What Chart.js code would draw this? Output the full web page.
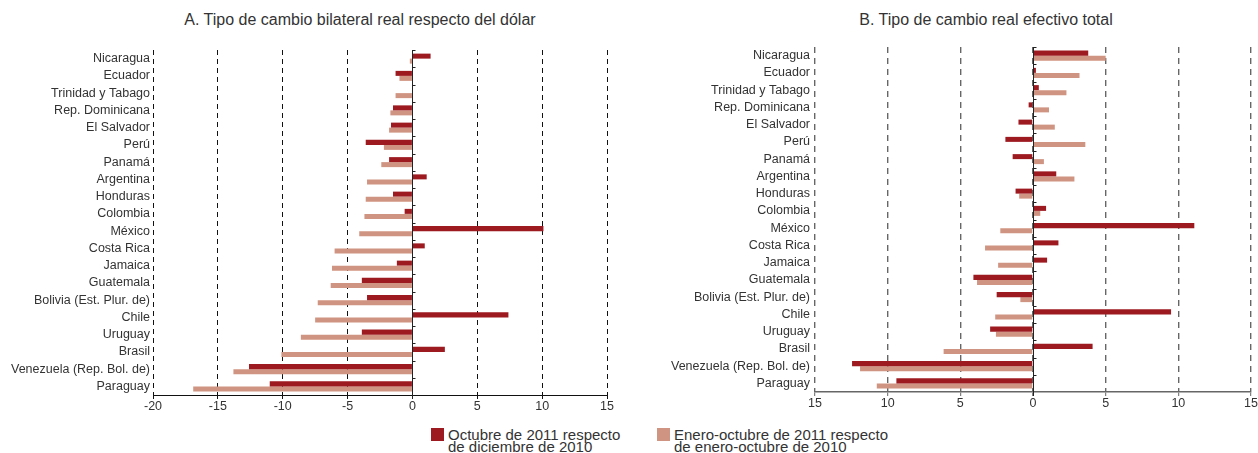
<!DOCTYPE html>
<html>
<head>
<meta charset="utf-8">
<script src="https://cdn.jsdelivr.net/npm/chart.js@4.4.1/dist/chart.umd.min.js"></script>
<style>
  body { margin: 0; background: #fff; font-family: "Liberation Sans", Arial, sans-serif; color: #333; }
  #wrap { position: relative; width: 1258px; height: 453px; overflow: hidden; }
  .title { position: absolute; top: 11px; font-size: 16px; white-space: nowrap; transform: translateX(-50%); }
  .chartBox { position: absolute; top: 0; }
  .legend { position: absolute; top: 429px; font-size: 15px; line-height: 11.5px; color: #333; }
  .legend span.sw { position: absolute; left: 0; top: -1px; width: 13px; height: 13px; }
  .legend div { padding-left: 17px; white-space: nowrap; }
</style>
</head>
<body>
<div id="wrap">
  <div class="title" style="left:360px">A. Tipo de cambio bilateral real respecto del dólar</div>
  <div class="title" style="left:986px">B. Tipo de cambio real efectivo total</div>
  <div class="chartBox" style="left:0;width:625px;height:425px"><canvas id="chartA"></canvas></div>
  <div class="chartBox" style="left:640px;width:618px;height:422px"><canvas id="chartB"></canvas></div>
  <div class="legend" style="left:431px"><span class="sw" style="background:#9d1a20"></span><div>Octubre de 2011 respecto<br>de diciembre de 2010</div></div>
  <div class="legend" style="left:657px"><span class="sw" style="background:#d09482"></span><div>Enero-octubre de 2011 respecto<br>de enero-octubre de 2010</div></div>
</div>
<script>
// categories (same order in both panels)
const countries = ['Nicaragua', 'Ecuador', 'Trinidad y Tabago', 'Rep. Dominicana', 'El Salvador', 'Perú',
  'Panamá', 'Argentina', 'Honduras', 'Colombia', 'México', 'Costa Rica', 'Jamaica', 'Guatemala',
  'Bolivia (Est. Plur. de)', 'Chile', 'Uruguay', 'Brasil', 'Venezuela (Rep. Bol. de)', 'Paraguay'];

// A. bilateral real vs dollar
const bilateralOct = [1.4, -1.3, 0, -1.5, -1.65, -3.6, -1.8, 1.1, -1.5, -0.6, 10.1, 0.95, -1.2, -3.9, -3.5, 7.4, -3.9, 2.5, -12.6, -11.0];
const bilateralEne = [-0.2, -1.0, -1.3, -1.7, -1.8, -2.2, -2.4, -3.5, -3.6, -3.7, -4.1, -6.0, -6.2, -6.3, -7.3, -7.5, -8.6, -10.1, -13.8, -16.9];

// B. effective real total
const efectivoOct = [3.8, 0.2, 0.4, -0.3, -1.0, -1.9, -1.4, 1.6, -1.2, 0.9, 11.1, 1.75, 0.97, -4.1, -2.5, 9.5, -2.95, 4.1, -12.45, -9.4];
const efectivoEne = [5.0, 3.2, 2.3, 1.1, 1.5, 3.6, 0.75, 2.85, -0.95, 0.5, -2.25, -3.3, -2.4, -3.85, -0.87, -2.6, -2.55, -6.15, -11.9, -10.75];

// axis ranges
const rangeA = [-20, 15];
const rangeB = [-15, 15];
const tickStep = 5;

const seriesNames = ['Octubre de 2011 respecto de diciembre de 2010', 'Enero-octubre de 2011 respecto de enero-octubre de 2010'];
const darkRed = '#9d1a20';
const lightRed = '#d09482';

// solid zero line with small ticks between categories
const zeroLine = {
  id: 'zeroLine',
  afterDatasetsDraw(chart) {
    const { ctx, chartArea, scales } = chart;
    const x0 = Math.round(scales.x.getPixelForValue(0)) + 0.5;
    ctx.save();
    ctx.strokeStyle = '#222';
    ctx.lineWidth = 1;
    ctx.beginPath();
    ctx.moveTo(x0, chartArea.top);
    ctx.lineTo(x0, chartArea.bottom + 4);
    for (let i = 0; i < chart.data.labels.length; i++) {
      const y = Math.round(scales.y.getPixelForValue(i - 0.5)) + 0.5;
      ctx.moveTo(x0, y);
      ctx.lineTo(x0 + 3, y);
    }
    ctx.stroke();
    ctx.restore();
  }
};

function makeChart(id, oct, ene, range, opts) {
  return new Chart(document.getElementById(id), {
    type: 'bar',
    data: {
      labels: countries,
      datasets: [
        { label: seriesNames[0], data: oct, backgroundColor: darkRed },
        { label: seriesNames[1], data: ene, backgroundColor: lightRed }
      ]
    },
    options: {
      indexAxis: 'y',
      responsive: true,
      maintainAspectRatio: false,
      animation: false,
      categoryPercentage: 0.58,
      barPercentage: 1.0,
      layout: { padding: { top: opts.top, right: opts.right, left: 0, bottom: 0 } },
      plugins: { legend: { display: false }, title: { display: false }, tooltip: { enabled: false } },
      scales: {
        x: {
          min: range[0],
          max: range[1],
          afterFit: s => { s.height = 30; },
          ticks: {
            stepSize: tickStep,
            padding: 0,
            color: '#333',
            font: { family: 'Liberation Sans, Arial', size: 12.5 },
            callback: opts.absTicks ? v => Math.abs(v) : v => v
          },
          grid: {
            color: opts.gridColor,
            lineWidth: opts.gridWidth,
            tickLength: 4,
            tickColor: opts.axisColor,
            tickWidth: 1,
            tickBorderDash: []
          },
          border: { display: true, color: opts.axisColor, width: opts.axisWidth, dash: opts.dash }
        },
        y: {
          afterFit: s => { s.width = opts.labelWidth; },
          ticks: {
            autoSkip: false,
            padding: opts.labelPad,
            color: '#333',
            font: { family: 'Liberation Sans, Arial', size: 12.5 }
          },
          grid: { display: false, drawTicks: false },
          border: { display: false }
        }
      }
    },
    plugins: [zeroLine]
  });
}

makeChart('chartA', bilateralOct, bilateralEne, rangeA, {
  top: 50, right: 18, labelWidth: 153, labelPad: 3, absTicks: false,
  gridColor: '#111', gridWidth: 1, dash: [5, 4], axisColor: '#111', axisWidth: 1
});
makeChart('chartB', efectivoOct, efectivoEne, rangeB, {
  top: 47, right: 7, labelWidth: 175, labelPad: 5, absTicks: true,
  gridColor: '#666', gridWidth: 1.4, dash: [6, 5], axisColor: '#666', axisWidth: 1.6
});
</script>
</body>
</html>
